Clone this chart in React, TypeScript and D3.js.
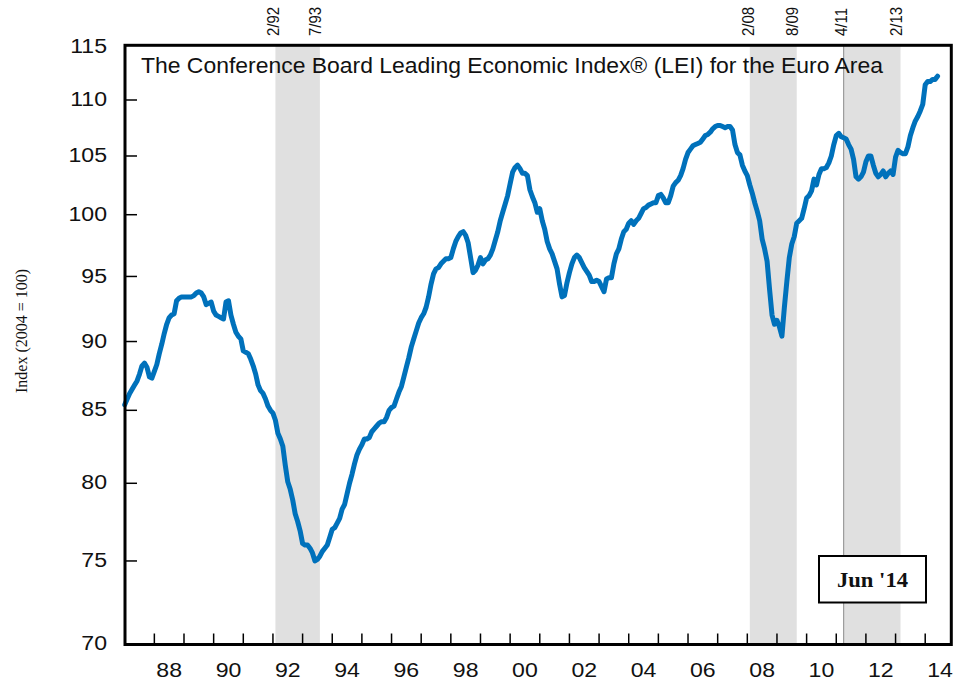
import * as d3 from 'd3';

// Monthly LEI values, Jan 1987 .. Jun 2014
const startYear = 1987;
const lei: number[] = [
  85.4, 85.8, 86.2, 86.5, 86.8, 87.1, 87.6, 88.2, 88.4, 88.1, 87.4, 87.3, // 1987
  87.8, 88.3, 89.1, 89.8, 90.6, 91.3, 91.8, 92.0, 92.1, 93.1, 93.3, 93.4, // 1988
  93.4, 93.4, 93.4, 93.4, 93.5, 93.7, 93.8, 93.7, 93.4, 92.8, 92.9, 93.0, // 1989
  92.3, 92.0, 91.9, 91.8, 91.7, 93.0, 93.1, 92.0, 91.3, 90.7, 90.4, 90.2, // 1990
  89.3, 89.2, 89.1, 88.7, 88.2, 87.6, 86.8, 86.4, 86.2, 85.8, 85.3, 85.0, // 1991
  84.8, 84.3, 83.4, 83.0, 82.5, 81.2, 80.1, 79.6, 78.9, 78.0, 77.5, 76.9, // 1992
  76.1, 76.0, 76.0, 75.8, 75.5, 75.0, 75.1, 75.3, 75.6, 75.8, 76.0, 76.5, // 1993
  77.0, 77.1, 77.4, 77.7, 78.3, 78.6, 79.3, 80.0, 80.6, 81.3, 81.9, 82.3, // 1994
  82.6, 83.0, 83.0, 83.1, 83.5, 83.7, 83.9, 84.1, 84.2, 84.2, 84.5, 85.0, // 1995
  85.2, 85.3, 85.8, 86.3, 86.7, 87.4, 88.1, 88.8, 89.6, 90.2, 90.8, 91.4, // 1996
  91.8, 92.1, 92.6, 93.4, 94.4, 95.2, 95.6, 95.7, 96.0, 96.2, 96.4, 96.4, // 1997
  96.5, 97.2, 97.8, 98.2, 98.5, 98.6, 98.3, 97.7, 96.5, 95.3, 95.5, 95.9, // 1998
  96.5, 96.0, 96.3, 96.4, 96.7, 97.2, 97.9, 98.6, 99.5, 100.2, 100.9, 101.6, // 1999
  102.6, 103.6, 104.0, 104.2, 103.9, 103.5, 103.5, 103.3, 102.1, 101.5, 101.0, 100.2, // 2000
  100.5, 99.5, 98.8, 97.8, 97.2, 96.8, 96.2, 95.6, 94.4, 93.4, 93.5, 94.5, // 2001
  95.3, 96.0, 96.5, 96.7, 96.5, 96.1, 95.7, 95.4, 95.1, 94.6, 94.6, 94.7, // 2002
  94.6, 94.2, 93.8, 94.8, 94.9, 94.9, 96.0, 96.8, 97.2, 98.0, 98.6, 98.8, // 2003
  99.3, 99.5, 99.2, 99.5, 99.7, 100.1, 100.5, 100.6, 100.8, 100.9, 101.0, 101.0, // 2004
  101.6, 101.7, 101.4, 101.0, 101.0, 101.6, 102.4, 102.7, 102.9, 103.3, 103.9, 104.7, // 2005
  105.3, 105.6, 105.9, 106.0, 106.1, 106.2, 106.5, 106.8, 106.9, 107.1, 107.4, 107.6, // 2006
  107.7, 107.7, 107.6, 107.5, 107.6, 107.6, 107.3, 106.0, 105.3, 105.1, 104.2, 103.7, // 2007
  103.3, 102.5, 101.8, 101.0, 100.3, 99.5, 98.0, 97.2, 96.2, 94.0, 92.0, 91.3, // 2008
  91.6, 91.1, 90.4, 92.6, 94.6, 96.5, 97.6, 98.2, 99.3, 99.5, 99.7, 100.5, // 2009
  101.4, 101.6, 102.0, 103.0, 102.5, 103.4, 103.9, 103.9, 104.0, 104.4, 105.0, 106.0, // 2010
  106.8, 107.0, 106.7, 106.6, 106.5, 106.0, 105.6, 104.7, 103.2, 103.0, 103.2, 103.6, // 2011
  104.5, 105.0, 105.0, 104.2, 103.5, 103.2, 103.4, 103.7, 103.2, 103.5, 103.7, 103.4, // 2012
  104.9, 105.5, 105.3, 105.2, 105.2, 105.8, 106.8, 107.5, 108.1, 108.5, 109.0, 109.6, // 2013
  111.4, 111.7, 111.7, 111.9, 111.9, 112.2, // 2014
];

const yTicks = [70, 75, 80, 85, 90, 95, 100, 105, 110, 115];
const yearLabels = ['88', '90', '92', '94', '96', '98', '00', '02', '04', '06', '08', '10', '12', '14'];
const recessions = [
  { peak: '2/92', trough: '7/93' },
  { peak: '2/08', trough: '8/09' },
  { peak: '4/11', trough: '2/13' },
];
const markedPeaks = ['4/11'];
const chartTitle = 'The Conference Board Leading Economic Index® (LEI) for the Euro Area';
const yLabel = 'Index (2004 = 100)';
const latestLabel = "Jun '14";

const W = 953;
const H = 687;
const left = 125;
const right = 951.3;
const top = 45.3;
const bottom = 644.5;

const sans = "'Liberation Sans', Arial, sans-serif";
const serif = "'Liberation Serif', 'Times New Roman', serif";
const blue = '#0071BB';

// "m/yy" -> decimal year at month start
const toYear = (s: string) => {
  const [m, yy] = s.split('/').map(Number);
  return (yy < 50 ? 2000 + yy : 1900 + yy) + (m - 1) / 12;
};
const fullYear = (s: string) => {
  const n = Number(s);
  return n < 50 ? 2000 + n : 1900 + n;
};

export default function App() {
  const x = d3.scaleLinear().domain([1987, 2014.88]).range([124.7, right]);
  const y = d3.scaleLog().domain([70, 115]).range([644, 46.5]);

  const line = d3.line<number>()
    .x((_, i) => x(startYear + i / 12))
    .y((d) => y(d));

  const years = d3.range(1988, 2015);

  return (
    <svg width={W} height={H} viewBox={`0 0 ${W} ${H}`}
      style={{ position: 'absolute', left: 0, top: 0, background: '#fff' }}>
      <rect x={0} y={0} width={W} height={H} fill="#fff" />

      {/* recession shading */}
      {recessions.map((r) => (
        <rect key={r.peak} x={x(toYear(r.peak))} y={top}
          width={x(toYear(r.trough) + 1 / 12) - x(toYear(r.peak))}
          height={bottom - top} fill="#e0e0e0" />
      ))}
      {recessions.filter((r) => markedPeaks.includes(r.peak)).map((r) => (
        <line key={'m' + r.peak} x1={x(toYear(r.peak))} x2={x(toYear(r.peak))} y1={top} y2={bottom}
          stroke="#8a8a8a" strokeWidth={1} />
      ))}

      {/* date labels above the frame */}
      {recessions.flatMap((r) => [r.peak, r.trough]).map((d) => (
        <text key={'t' + d} transform={`translate(${x(toYear(d)) - 2},36) rotate(-90) scale(1,1.1)`}
          fontFamily={sans} fontSize={15} dominantBaseline="central" fill="#111">{d}</text>
      ))}

      <text x={141} y={73} fontFamily={sans} fontSize={22} fill="#111"
        textLength={742} lengthAdjust="spacingAndGlyphs">{chartTitle}</text>

      <path d={line(lei) ?? ''} fill="none" stroke={blue} strokeWidth={5}
        strokeLinejoin="round" strokeLinecap="round" />

      {/* ticks */}
      {yTicks.slice(1, -1).map((v) => (
        <line key={'yt' + v} x1={left} x2={left + 12} y1={y(v)} y2={y(v)} stroke="#000" strokeWidth={1.5} />
      ))}
      {years.map((yr) => (
        <line key={'xt' + yr} x1={x(yr)} x2={x(yr)} y1={bottom} y2={bottom - 11} stroke="#000" strokeWidth={1.5} />
      ))}

      {/* frame */}
      <rect x={left} y={top} width={right - left} height={bottom - top} fill="none" stroke="#000" strokeWidth={3} />

      {/* y tick labels */}
      {yTicks.map((v) => (
        <text key={'yl' + v} transform={`translate(107,${y(v) - 1}) scale(1.1,1)`} textAnchor="end"
          dominantBaseline="central" fontFamily={sans} fontSize={21} fill="#111">{v}</text>
      ))}
      {/* x tick labels */}
      {yearLabels.map((s) => (
        <text key={'xl' + s} transform={`translate(${x(fullYear(s) + 0.5)},677) scale(1.1,1)`} textAnchor="middle"
          fontFamily={sans} fontSize={21} fill="#111">{s}</text>
      ))}

      <text transform="translate(21,331) rotate(-90)" textAnchor="middle" dominantBaseline="central"
        fontFamily={serif} fontSize={16} fill="#111">{yLabel}</text>

      {/* latest-month box */}
      <rect x={819} y={556} width={107} height={46.5} fill="#fff" stroke="#000" strokeWidth={2} />
      <text transform="translate(872.5,580) scale(1.08,1)" textAnchor="middle" dominantBaseline="central"
        fontFamily={serif} fontWeight="bold" fontSize={21} fill="#111">{latestLabel}</text>
    </svg>
  );
}
